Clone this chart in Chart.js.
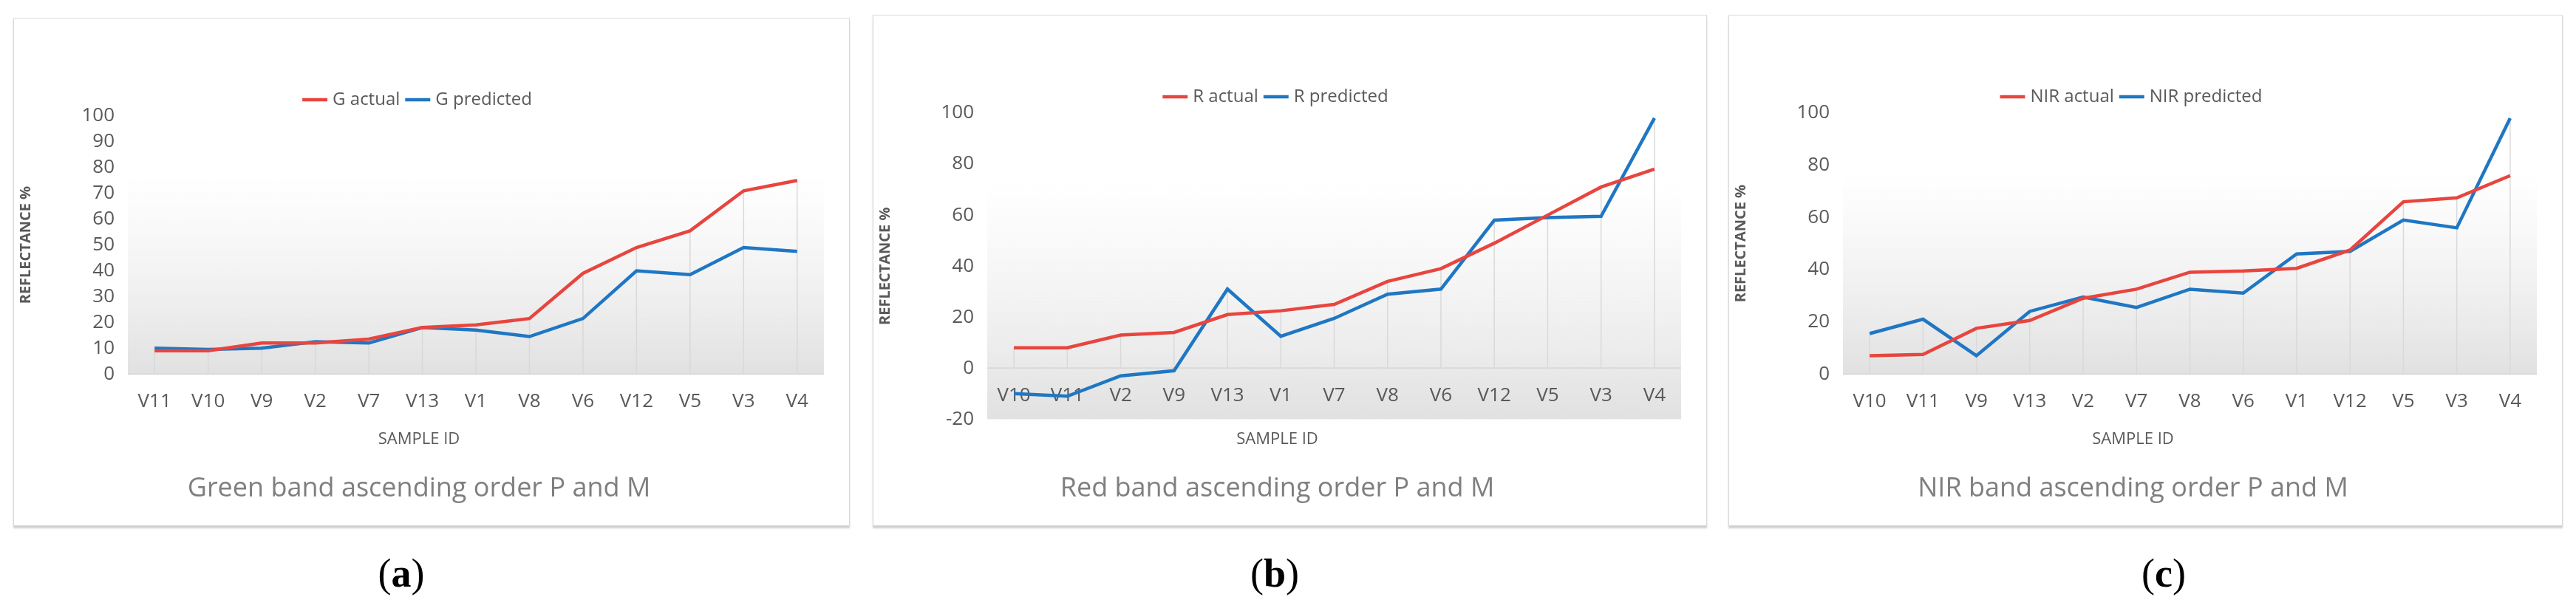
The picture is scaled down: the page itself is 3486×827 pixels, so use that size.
<!DOCTYPE html>
<html>
<head>
<meta charset="utf-8">
<script src="https://cdn.jsdelivr.net/npm/chart.js@4.4.1/dist/chart.umd.min.js"></script>
<style>
    body { margin: 0; width: 3486px; height: 827px; background: #fff; position: relative; overflow: hidden; }
    .panel { position: absolute; border: 1px solid #d9d9d9; box-shadow: 0 3px 2px #cfcfcf; background: #fff; }
    .cap { position: absolute; font-family: 'Liberation Serif', serif; font-size: 54px; transform: translateX(-50%); top: 745px; }
    .cap b { font-weight: bold; }
</style>
</head>
<body>
<div class="panel" style="left:18px; top:24px; width:1130px; height:686px;"><canvas id="chartA"></canvas></div>
<div class="panel" style="left:1181px; top:20px; width:1127px; height:690px;"><canvas id="chartB"></canvas></div>
<div class="panel" style="left:2339px; top:20px; width:1127px; height:690px;"><canvas id="chartC"></canvas></div>
<div class="cap" style="left:543px;">(<b>a</b>)</div>
<div class="cap" style="left:1725px;">(<b>b</b>)</div>
<div class="cap" style="left:2928px;">(<b>c</b>)</div>
<script>
// sample order differs per band (ascending by actual value)
const samplesG = ['V11', 'V10', 'V9', 'V2', 'V7', 'V13', 'V1', 'V8', 'V6', 'V12', 'V5', 'V3', 'V4'];
const gActual = [9, 9, 12, 12, 13.5, 18, 19, 21.5, 39, 49, 55.5, 71, 75];
const gPredicted = [10, 9.5, 10, 12.5, 12, 18, 17, 14.5, 21.5, 40, 38.5, 49, 47.5];

const samplesR = ['V10', 'V11', 'V2', 'V9', 'V13', 'V1', 'V7', 'V8', 'V6', 'V12', 'V5', 'V3', 'V4'];
const rActual = [8, 8, 13, 14, 21, 22.5, 25, 34, 39, 49, 60, 71, 78];
const rPredicted = [-10, -11, -3, -1, 31, 12.5, 19.5, 29, 31, 58, 59, 59.5, 98];

const samplesNIR = ['V10', 'V11', 'V9', 'V13', 'V2', 'V7', 'V8', 'V6', 'V1', 'V12', 'V5', 'V3', 'V4'];
const nirActual = [7, 7.5, 17.5, 20.5, 29, 32.5, 39, 39.5, 40.5, 47.5, 66, 67.5, 76];
const nirPredicted = [15.5, 21, 7, 24, 29.5, 25.5, 32.5, 31, 46, 47, 59, 56, 98];

const RED = '#e8453f';
const BLUE = '#1f77c4';
const GREY = '#595959';

// shaded plot background + drop lines like the Excel original
const excelLook = {
    id: 'excelLook',
    beforeDraw(chart, args, opts) {
        const { ctx, chartArea, scales } = chart;
        const top = scales.y.getPixelForValue(opts.shadeFrom);
        const g = ctx.createLinearGradient(0, top, 0, chartArea.bottom);
        g.addColorStop(0, 'rgba(235,235,235,0)');
        g.addColorStop(1, 'rgba(225,225,225,1)');
        ctx.save();
        ctx.fillStyle = g;
        ctx.fillRect(chartArea.left, top, chartArea.width, chartArea.bottom - top);
        const zero = scales.y.getPixelForValue(0);
        ctx.strokeStyle = '#d9d9d9';
        ctx.lineWidth = 2;
        ctx.beginPath();
        ctx.moveTo(chartArea.left, zero);
        ctx.lineTo(chartArea.right, zero);
        ctx.stroke();
        ctx.lineWidth = 1.5;
        chart.data.labels.forEach((l, i) => {
            const hi = Math.max(...chart.data.datasets.map(d => d.data[i]));
            const x = scales.x.getPixelForValue(i);
            ctx.beginPath();
            ctx.moveTo(x, scales.y.getPixelForValue(hi));
            ctx.lineTo(x, zero);
            ctx.stroke();
        });
        ctx.restore();
    }
};

function makeChart(id, labels, actual, predicted, band, title, yMin, yStep, shadeFrom, xAtZero) {
    const ctx = document.getElementById(id).getContext('2d');
    return new Chart(ctx, {
        type: 'line',
        data: {
            labels: labels,
            datasets: [
                { label: band + ' actual', data: actual, borderColor: RED, backgroundColor: RED, borderWidth: 4.5, pointRadius: 0, tension: 0 },
                { label: band + ' predicted', data: predicted, borderColor: BLUE, backgroundColor: BLUE, borderWidth: 4.5, pointRadius: 0, tension: 0 }
            ]
        },
        options: {
            responsive: true,
            maintainAspectRatio: false,
            animation: false,
            layout: { padding: { top: 86, right: 34, bottom: 18, left: 0 } },
            plugins: {
                excelLook: { shadeFrom: shadeFrom },
                legend: {
                    position: 'top',
                    align: 'center',
                    labels: { usePointStyle: true, pointStyle: 'line', boxWidth: 60, color: GREY, font: { family: 'Open Sans', size: 24 }, padding: 12 }
                },
                subtitle: {
                    display: true, position: 'bottom', text: 'SAMPLE ID', color: GREY,
                    font: { family: 'Open Sans', size: 22 }, padding: { top: xAtZero ? 14 : 8, bottom: 20 }
                },
                title: {
                    display: true, position: 'bottom', text: title, color: '#7f7f7f',
                    font: { family: 'Open Sans', size: 36, weight: 'normal' }, padding: { top: 12, bottom: 10 }
                },
                tooltip: { enabled: false }
            },
            scales: {
                x: {
                    position: xAtZero ? { y: 0 } : 'bottom',
                    offset: true,
                    grid: { display: false },
                    border: { display: false },
                    ticks: { color: GREY, font: { family: 'Open Sans', size: 26 }, padding: 14, maxRotation: 0, autoSkip: false }
                },
                y: {
                    min: yMin, max: 100,
                    afterFit: s => { s.width = 154; },
                    grid: { display: false },
                    border: { display: false },
                    ticks: { stepSize: yStep, color: GREY, font: { family: 'Open Sans', size: 26 }, padding: 10 },
                    title: { display: true, text: 'REFLECTANCE %', color: GREY, font: { family: 'Open Sans', size: 20, weight: 'bold' } }
                }
            }
        },
        plugins: [excelLook]
    });
}

makeChart('chartA', samplesG, gActual, gPredicted, 'G', 'Green band ascending order P and M', 0, 10, 77, false);
makeChart('chartB', samplesR, rActual, rPredicted, 'R', 'Red band ascending order P and M', -20, 20, 73, true);
makeChart('chartC', samplesNIR, nirActual, nirPredicted, 'NIR', 'NIR band ascending order P and M', 0, 20, 77, false);
</script>
</body>
</html>
